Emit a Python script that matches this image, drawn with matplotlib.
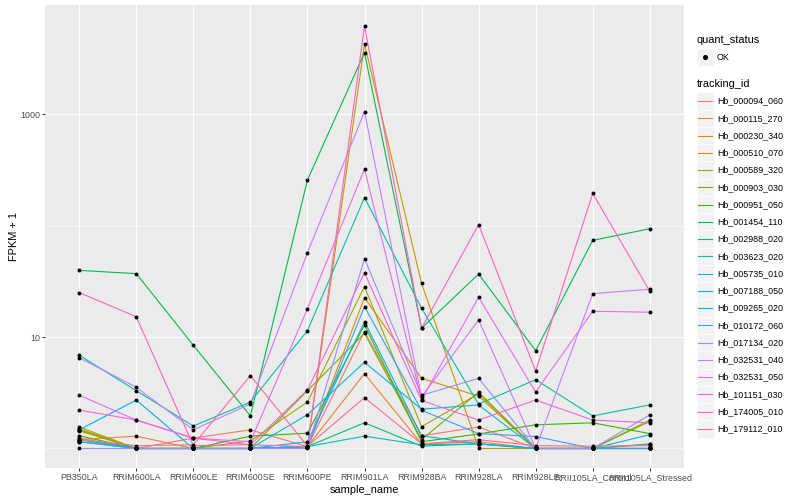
import matplotlib
matplotlib.use('Agg')
from matplotlib import pyplot as plt
from matplotlib.lines import Line2D
from matplotlib.patches import Rectangle
from matplotlib.ticker import NullFormatter
import numpy as np

plt.rcParams['font.family'] = ['Liberation Sans', 'DejaVu Sans']

samples = ['PB350LA', 'RRIM600LA', 'RRIM600LE', 'RRIM600SE', 'RRIM600PE',
           'RRIM901LA', 'RRIM928BA', 'RRIM928LA', 'RRIM928LE',
           'RRII105LA_Control', 'RRII105LA_Stressed']

tracking_ids = ['Hb_000094_060', 'Hb_000115_270', 'Hb_000230_340', 'Hb_000510_070',
                'Hb_000589_320', 'Hb_000903_030', 'Hb_000951_050', 'Hb_001454_110',
                'Hb_002988_020', 'Hb_003623_020', 'Hb_005735_010', 'Hb_007188_050',
                'Hb_009265_020', 'Hb_010172_060', 'Hb_017134_020', 'Hb_032531_040',
                'Hb_032531_050', 'Hb_101151_030', 'Hb_174005_010', 'Hb_179112_010']

colors = ['#F8766D', '#EA8331', '#D89000', '#C09B00', '#A3A500', '#7CAE00', '#39B600',
          '#00BB4E', '#00BF7D', '#00C1A3', '#00BFC4', '#00BAE0', '#00B0F6', '#35A2FF',
          '#9590FF', '#C77CFF', '#E76BF3', '#FA62DB', '#FF62BC', '#FF6C91']

# FPKM + 1, one value per sample
hb_000094_060 = [1.24, 1.0, 1.24, 1.47, 1.04, 11.2, 1.3, 1.56, 1.0, 1.0, 1.0]
hb_000115_270 = [1.2, 1.29, 1.0, 1.0, 1.04, 4.69, 1.1, 1.15, 1.0, 1.0, 1.09]
hb_000230_340 = [1.44, 1.0, 1.0, 1.0, 1.04, 22.5, 4.26, 2.95, 1.0, 1.0, 1.0]
hb_000510_070 = [1.5, 1.0, 1.0, 1.0, 1.04, 4250, 30.3, 1.0, 1.0, 1.0, 1.0]
hb_000589_320 = [1.56, 1.0, 1.0, 1.17, 2.61, 28.3, 1.57, 3.1, 1.0, 1.0, 1.8]
hb_000903_030 = [1.47, 1.0, 1.0, 1.0, 3.3, 10.8, 1.2, 3.2, 1.0, 1.0, 1.75]
hb_000951_050 = [1.3, 1.0, 1.0, 1.29, 1.37, 12.8, 1.15, 1.35, 1.63, 1.7, 1.36]
hb_001454_110 = [39.6, 37.0, 8.43, 1.96, 256, 3550, 12.0, 36.7, 7.54, 73.6, 93.6]
hb_002988_020 = [1.15, 1.0, 1.0, 1.0, 1.04, 1.70, 1.05, 1.1, 1.0, 1.0, 1.0]
hb_003623_020 = [6.86, 3.3, 1.59, 2.61, 11.4, 178, 18.1, 2.5, 4.14, 1.96, 2.46]
hb_005735_010 = [1.2, 1.0, 1.0, 1.0, 1.04, 1.29, 1.08, 1.1, 1.0, 1.0, 1.1]
hb_007188_050 = [1.15, 1.0, 1.0, 1.0, 2.01, 5.93, 2.25, 2.46, 1.0, 1.0, 1.33]
hb_009265_020 = [1.47, 2.72, 1.0, 1.0, 1.15, 13.7, 1.3, 1.1, 1.0, 1.0, 1.0]
hb_010172_060 = [1.2, 1.0, 1.0, 1.0, 1.04, 18.7, 2.2, 1.36, 1.28, 1.0, 1.0]
hb_017134_020 = [1.0, 1.0, 1.0, 1.0, 1.0, 50.4, 3.0, 4.26, 1.0, 1.0, 2.0]
hb_032531_040 = [6.52, 3.54, 1.47, 2.51, 57.0, 1050, 2.9, 14.2, 1.0, 24.5, 26.8]
hb_032531_050 = [3.0, 1.8, 1.24, 1.15, 17.9, 321, 2.75, 22.7, 3.21, 17.0, 16.7]
hb_101151_030 = [2.21, 1.8, 1.24, 1.08, 3.35, 37.7, 2.7, 1.8, 2.72, 1.8, 1.7]
hb_174005_010 = [25.0, 15.2, 1.06, 1.08, 1.04, 6150, 12.0, 102, 4.95, 194, 25.7]
hb_179112_010 = [1.2, 1.06, 1.08, 4.5, 1.05, 2.86, 1.1, 1.2, 1.06, 1.05, 1.06]

fpkm_plus_1 = [hb_000094_060, hb_000115_270, hb_000230_340, hb_000510_070,
               hb_000589_320, hb_000903_030, hb_000951_050, hb_001454_110,
               hb_002988_020, hb_003623_020, hb_005735_010, hb_007188_050,
               hb_009265_020, hb_010172_060, hb_017134_020, hb_032531_040,
               hb_032531_050, hb_101151_030, hb_174005_010, hb_179112_010]

W, H = 800, 500
fig = plt.figure(figsize=(8, 5), dpi=100)
ax = fig.add_axes([45 / W, 1 - 468 / H, 639 / W, 463 / H])
ax.set_facecolor('#EBEBEB')

x = np.arange(1, len(samples) + 1)
for vals, col in zip(fpkm_plus_1, colors):
    ax.plot(x, vals, color=col, lw=0.8, zorder=2)
for vals in fpkm_plus_1:
    ax.scatter(x, vals, s=8, color='black', linewidths=0, zorder=3)

ax.set_yscale('log')
ax.set_ylim(10 ** -0.175, 10 ** 3.978)
ax.set_xlim(0.4, 11.6)
ax.set_xticks(x)
ax.set_xticklabels(samples)
ax.set_yticks([10, 1000])
ax.set_yticklabels(['10', '1000'])
ax.set_yticks([1, 100], minor=True)
ax.yaxis.set_minor_formatter(NullFormatter())
ax.grid(which='major', color='white', lw=0.8)
ax.grid(which='minor', axis='y', color='white', lw=0.4)
ax.set_axisbelow(True)
for s in ax.spines.values():
    s.set_visible(False)
ax.tick_params(which='major', length=2, width=0.7, color='#333333',
               labelsize=6.4, labelcolor='#4D4D4D', pad=1.6)
ax.tick_params(which='minor', length=0)
ax.set_xlabel('sample_name', fontsize=7.9, labelpad=2)
ax.set_ylabel('FPKM + 1', fontsize=7.9, labelpad=1)


def fx(px):
    return px / W


def fy(py):
    return 1 - py / H


key = 17.28
kx = 696.5

# quant_status legend
fig.text(fx(kx), fy(40), 'quant_status', fontsize=7.9, va='center', ha='left')
fig.patches.append(Rectangle((fx(kx), fy(57.3 + key / 2)), key / W, key / H,
                             transform=fig.transFigure, facecolor='#F2F2F2',
                             edgecolor='white', lw=0.5))
fig.lines.append(Line2D([fx(kx + key / 2)], [fy(57.3)], transform=fig.transFigure,
                        marker='o', ms=2.6, color='black', ls='none'))
fig.text(fx(kx + key + 3), fy(57.3), 'OK', fontsize=6.4, va='center', ha='left')

# tracking_id legend
fig.text(fx(kx), fy(84.3), 'tracking_id', fontsize=7.9, va='center', ha='left')
for i, (tid, col) in enumerate(zip(tracking_ids, colors)):
    yc = 101 + 17.26 * i
    fig.patches.append(Rectangle((fx(kx), fy(yc + key / 2)), key / W, key / H,
                                 transform=fig.transFigure, facecolor='#F2F2F2',
                                 edgecolor='white', lw=0.5))
    fig.lines.append(Line2D([fx(kx + 1.7), fx(kx + key - 1.7)], [fy(yc), fy(yc)],
                            transform=fig.transFigure, color=col, lw=0.8))
    fig.text(fx(kx + key + 3), fy(yc), tid, fontsize=6.4, va='center', ha='left')

fig.savefig('out.png', dpi=100)
